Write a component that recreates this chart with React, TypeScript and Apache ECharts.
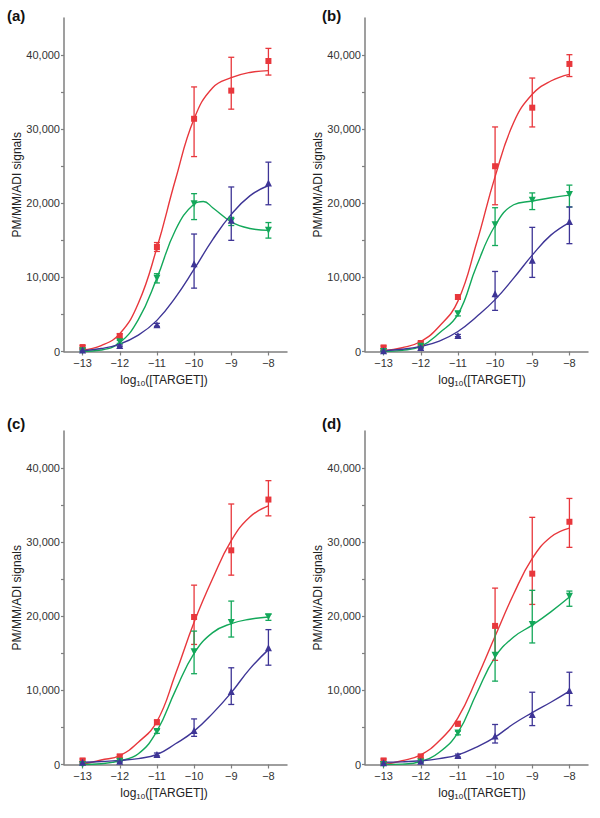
import React, { useEffect, useRef } from "react";
import * as echarts from "echarts";

// ---- axis definitions ----
const xTicks = [-13, -12, -11, -10, -9, -8];
const yTicks = [0, 5000, 10000, 15000, 20000, 25000, 30000, 35000, 40000];
const yLabels = [0, 10000, 20000, 30000, 40000];
const panelLabels = ["(a)", "(b)", "(c)", "(d)"];

// measured concentrations (log10)
const xs = [-13, -12, -11, -10, -9, -8];
// fitted-curve sample positions
const curveX = [-13, -12.5, -12, -11.5, -11, -10.5, -10, -9.5, -9, -8.5, -8];
const curveXGreenA = [-13, -12.5, -12, -11.5, -11, -10.5, -10, -9.75, -9.5, -9, -8.5, -8];

// ---- panel (a) ----
const redA = [600, 2100, 14100, 31400, 35200, 39200];
const redALo = [400, 1800, 13500, 26300, 32700, 37300];
const redAHi = [800, 2400, 14700, 35700, 39700, 40900];
const greenA = [100, 1300, 9900, 19950, 17550, 16350];
const greenALo = [0, 1100, 9250, 17800, 17000, 15300];
const greenAHi = [200, 1500, 10500, 21300, 18100, 17400];
const blueA = [200, 800, 3600, 11850, 17700, 22750];
const blueALo = [100, 700, 3400, 8550, 15000, 19800];
const blueAHi = [300, 900, 3800, 15850, 22200, 25550];
const redACurve = [200, 800, 2400, 6500, 14000, 23200, 31400, 35600, 36950, 37650, 37900];
const greenACurve = [0, 200, 1200, 4300, 9900, 16400, 19900, 20250, 19400, 17500, 16600, 16350];
const blueACurve = [100, 400, 1000, 2200, 4200, 7300, 11100, 15100, 18500, 21000, 22400];

// ---- panel (b) ----
const redB = [550, 1150, 7350, 25000, 32900, 38800];
const redBLo = [350, 950, 7050, 19800, 30300, 37100];
const redBHi = [750, 1350, 7650, 30300, 36900, 40050];
const greenB = [0, 700, 5100, 17100, 20400, 21200];
const greenBLo = [0, 550, 4800, 14300, 19150, 19500];
const greenBHi = [100, 850, 5400, 19400, 21400, 22450];
const blueB = [100, 550, 2150, 7800, 12300, 17550];
const blueBLo = [50, 450, 2000, 5550, 10000, 14550];
const blueBHi = [150, 650, 2300, 10800, 16750, 19500];
const redBCurve = [100, 500, 1350, 3400, 6800, 14600, 23600, 30900, 34700, 36500, 37400];
const greenBCurve = [0, 150, 700, 2500, 5000, 11500, 17000, 19800, 20300, 20750, 21100];
const blueBCurve = [100, 300, 700, 1400, 2700, 4700, 7000, 9900, 13000, 15700, 17400];

// ---- panel (c) ----
const redC = [550, 1100, 5700, 19900, 28900, 35750];
const redCLo = [350, 900, 5400, 16200, 25550, 33550];
const redCHi = [750, 1300, 6000, 24200, 35150, 38300];
const greenC = [0, 450, 4450, 15200, 19150, 19950];
const greenCLo = [0, 350, 4200, 12250, 17200, 19450];
const greenCHi = [100, 550, 4700, 18000, 22050, 20250];
const blueC = [300, 450, 1350, 4600, 9850, 15750];
const blueCLo = [200, 350, 1150, 3800, 8100, 13400];
const blueCHi = [400, 550, 1550, 6150, 13050, 18200];
const redCCurve = [0, 600, 1200, 3000, 5800, 12200, 19200, 25100, 30200, 33400, 34900];
const greenCCurve = [0, 100, 500, 1450, 4500, 10000, 15000, 17800, 19000, 19600, 19900];
const blueCCurve = [300, 400, 550, 800, 1350, 2800, 4500, 6900, 9700, 12900, 15500];

// ---- panel (d) ----
const redD = [550, 1100, 5500, 18700, 25750, 32750];
const redDLo = [350, 900, 5200, 14050, 21600, 29300];
const redDHi = [750, 1300, 5800, 23800, 33350, 35900];
const greenD = [0, 350, 4250, 14750, 18900, 22700];
const greenDLo = [0, 250, 4000, 11250, 16400, 21350];
const greenDHi = [100, 450, 4500, 18550, 23500, 23400];
const blueD = [250, 450, 1200, 3850, 6750, 10000];
const blueDLo = [150, 350, 1000, 2900, 5250, 7950];
const blueDHi = [350, 550, 1400, 5400, 9750, 12450];
const redDCurve = [0, 500, 1300, 3200, 6300, 11500, 17300, 23000, 27800, 30700, 31900];
const greenDCurve = [0, 50, 400, 1650, 4300, 9550, 14500, 17200, 18800, 20600, 22600];
const blueDCurve = [300, 350, 500, 800, 1300, 2350, 3700, 5500, 7000, 8400, 9900];

const RED = "#e8373c";
const GREEN = "#13a85a";
const BLUE = "#3e3596";
const FONT = "'Liberation Sans', Arial, sans-serif";

type Set = { v: number[]; lo: number[]; hi: number[]; cx: number[]; cy: number[] };
type Panel = { red: Set; green: Set; blue: Set };

const panels: Panel[] = [
  {
    red: { v: redA, lo: redALo, hi: redAHi, cx: curveX, cy: redACurve },
    green: { v: greenA, lo: greenALo, hi: greenAHi, cx: curveXGreenA, cy: greenACurve },
    blue: { v: blueA, lo: blueALo, hi: blueAHi, cx: curveX, cy: blueACurve },
  },
  {
    red: { v: redB, lo: redBLo, hi: redBHi, cx: curveX, cy: redBCurve },
    green: { v: greenB, lo: greenBLo, hi: greenBHi, cx: curveX, cy: greenBCurve },
    blue: { v: blueB, lo: blueBLo, hi: blueBHi, cx: curveX, cy: blueBCurve },
  },
  {
    red: { v: redC, lo: redCLo, hi: redCHi, cx: curveX, cy: redCCurve },
    green: { v: greenC, lo: greenCLo, hi: greenCHi, cx: curveX, cy: greenCCurve },
    blue: { v: blueC, lo: blueCLo, hi: blueCHi, cx: curveX, cy: blueCCurve },
  },
  {
    red: { v: redD, lo: redDLo, hi: redDHi, cx: curveX, cy: redDCurve },
    green: { v: greenD, lo: greenDLo, hi: greenDHi, cx: curveX, cy: greenDCurve },
    blue: { v: blueD, lo: blueDLo, hi: blueDHi, cx: curveX, cy: blueDCurve },
  },
];

const gridPos = [
  { left: 64, top: 18, labX: 7, labY: 15, titleX: 164 },
  { left: 365, top: 18, labX: 322, labY: 15, titleX: 482 },
  { left: 64, top: 431, labX: 7, labY: 423, titleX: 164 },
  { left: 365, top: 431, labX: 322, labY: 423, titleX: 482 },
];
const GW = 223;
const GH = 333.5;

function fmt(v: number) {
  return v.toLocaleString("en-US");
}
function fmtX(v: number) {
  return v < 0 ? "\u2212" + Math.abs(v) : String(v);
}

function errorSeries(i: number, s: Set, color: string) {
  return {
    type: "custom",
    xAxisIndex: i,
    yAxisIndex: i,
    silent: true,
    z: 3,
    data: xs.map((x, k) => [x, s.lo[k], s.hi[k]]),
    encode: { x: 0, y: [1, 2] },
    renderItem: (_p: any, api: any) => {
      const x = api.value(0);
      const top = api.coord([x, api.value(2)]);
      const bot = api.coord([x, api.value(1)]);
      const w = 3;
      const style = { stroke: color, lineWidth: 1.3 };
      return {
        type: "group",
        children: [
          { type: "line", shape: { x1: top[0], y1: top[1], x2: bot[0], y2: bot[1] }, style },
          { type: "line", shape: { x1: top[0] - w, y1: top[1], x2: top[0] + w, y2: top[1] }, style },
          { type: "line", shape: { x1: bot[0] - w, y1: bot[1], x2: bot[0] + w, y2: bot[1] }, style },
        ],
      };
    },
  };
}

function curveSeries(i: number, s: Set, color: string) {
  return {
    type: "line",
    xAxisIndex: i,
    yAxisIndex: i,
    data: s.cx.map((x, k) => [x, s.cy[k]]),
    smooth: 0.45,
    symbol: "none",
    silent: true,
    z: 2,
    lineStyle: { color, width: 1.4 },
  };
}

function pointSeries(i: number, s: Set, color: string, symbol: string, rot: number, size: number) {
  return {
    type: "scatter",
    xAxisIndex: i,
    yAxisIndex: i,
    data: xs.map((x, k) => [x, s.v[k]]),
    symbol,
    symbolRotate: rot,
    symbolSize: size,
    silent: true,
    z: 4,
    itemStyle: { color, opacity: 1 },
  };
}

export default function App() {
  const ref = useRef<HTMLDivElement>(null);
  useEffect(() => {
    if (!ref.current) return;
    const chart = echarts.init(ref.current, null, { renderer: "svg" });
    const grid = gridPos.map((g) => ({ left: g.left, top: g.top, width: GW, height: GH, containLabel: false }));
    const axisLine = { show: true, onZero: false, lineStyle: { color: "#7f7f7f", width: 1.5 } };
    const xAxis = gridPos.map((_, i) => ({
      type: "value",
      gridIndex: i,
      min: -13.5,
      max: -7.5,
      splitLine: { show: false },
      axisLine,
      axisTick: { show: true, length: 4, customValues: xTicks, lineStyle: { color: "#7f7f7f", width: 1.2 } },
      axisLabel: {
        customValues: xTicks,
        formatter: (v: number) => fmtX(v),
        color: "#333",
        fontSize: 11,
        fontFamily: FONT,
        margin: 6,
      },
    }));
    const yAxis = gridPos.map((_, i) => ({
      type: "value",
      gridIndex: i,
      min: 0,
      max: 45000,
      splitLine: { show: false },
      axisLine,
      axisTick: { show: true, length: 3, customValues: yTicks, lineStyle: { color: "#7f7f7f", width: 1.2 } },
      axisLabel: {
        customValues: yLabels,
        formatter: (v: number) => fmt(v),
        color: "#333",
        fontSize: 11,
        fontFamily: FONT,
        margin: 4,
      },
    }));
    const series: any[] = [];
    panels.forEach((p, i) => {
      series.push(curveSeries(i, p.red, RED));
      series.push(curveSeries(i, p.green, GREEN));
      series.push(curveSeries(i, p.blue, BLUE));
      series.push(errorSeries(i, p.red, RED));
      series.push(errorSeries(i, p.green, GREEN));
      series.push(errorSeries(i, p.blue, BLUE));
      series.push(pointSeries(i, p.red, RED, "rect", 0, 6));
      series.push(pointSeries(i, p.green, GREEN, "triangle", 180, 7));
      series.push(pointSeries(i, p.blue, BLUE, "triangle", 0, 7));
    });
    const graphic: any[] = [];
    gridPos.forEach((g, i) => {
      graphic.push({
        type: "text",
        x: g.labX,
        y: g.labY,
        style: {
          text: panelLabels[i],
          fontSize: 15,
          fontWeight: "bold",
          fontFamily: FONT,
          fill: "#111",
          align: "left",
          verticalAlign: "middle",
        },
      });
      graphic.push({
        type: "text",
        x: g.left - 47,
        y: g.top + GH / 2,
        rotation: Math.PI / 2,
        style: {
          text: "PM/MM/ADI signals",
          fontSize: 12,
          fontFamily: FONT,
          fill: "#222",
          align: "center",
          verticalAlign: "middle",
        },
      });
      graphic.push({
        type: "text",
        x: g.titleX,
        y: g.top + GH + 28,
        style: {
          text: "{a|log}{s|10}{a|([TARGET])}",
          align: "center",
          verticalAlign: "middle",
          fill: "#222",
          rich: {
            a: { fontSize: 12, fontFamily: FONT, fill: "#222", lineHeight: 16, verticalAlign: "middle" },
            s: { fontSize: 8, fontFamily: FONT, fill: "#222", lineHeight: 16, padding: [7, 0, 0, 0] },
          },
        },
      });
    });
    chart.setOption({
      animation: false,
      backgroundColor: "#fff",
      grid,
      xAxis,
      yAxis,
      series,
      graphic,
    });
    return () => chart.dispose();
  }, []);
  return (
    <div
      ref={ref}
      style={{ position: "absolute", left: 0, top: 0, width: 600, height: 818, background: "#fff" }}
    />
  );
}
